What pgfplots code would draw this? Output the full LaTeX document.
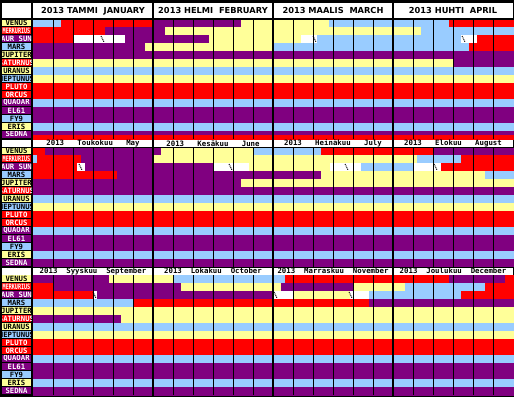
\documentclass[border=0pt]{standalone}
\usepackage{pgfplots}
\pgfplotsset{compat=1.18}
\usepackage{fontspec}
\newfontfamily\monof{DejaVu Sans Mono}
\newfontfamily\sansf{DejaVu Sans}
\definecolor{cR}{HTML}{FF0000}
\definecolor{cP}{HTML}{800080}
\definecolor{cY}{HTML}{FFFF99}
\definecolor{cB}{HTML}{99CCFF}
% rectangle: colour, x1, x2, y1, y2 (pixel coordinates, y downwards)
\newcommand\R[5]{\addplot[draw=#1,line width=0.3bp,fill=#1] coordinates {(#2,#4) (#3,#4) (#3,#5) (#2,#5)} -- cycle;}
% label box: fill, text colour, y1, y2, text
\newcommand\Lb[6][1]{%
  \pgfplotsextra{\begin{scope}
    \fill[#2] (axis cs:2,{#4+0.3}) rectangle (axis cs:31,{#5-1});
    \clip (axis cs:2,#4) rectangle (axis cs:31,#5);
    \node[text=#3,font=\monof\bfseries\fontsize{7.3}{7.5}\selectfont,inner sep=0pt,xscale=#1] at (axis cs:16.5,{(#4+#5)/2-0.4}) {#6};\end{scope}}}
% hatch mark in a white bar: x1,y1,x2,y2
\newcommand\Hm[4]{\addplot[black,line width=0.9bp,dash pattern=on 1bp off 0.8bp] coordinates {(#1,#2) (#3,#4)};}
\begin{document}
\begin{tikzpicture}
\begin{axis}[at={(0,0)},anchor=south west,width=514bp,height=397bp,scale only axis,
  xmin=0,xmax=514,ymin=0,ymax=397,y dir=reverse,axis lines=none,ticks=none,clip=true]
% background
\addplot[draw=none,fill=black] coordinates {(0,0) (514,0) (514,397) (0,397)} -- cycle;
% title boxes
\addplot[draw=none,fill=white] coordinates {(2,3) (513,3) (513,18.3) (2,18.3)} -- cycle;
\addplot[draw=none,fill=white] coordinates {(2,140) (513,140) (513,147) (2,147)} -- cycle;
\addplot[draw=none,fill=white] coordinates {(2,267.6) (513,267.6) (513,274.6) (2,274.6)} -- cycle;
%%%%% band 1 : January - April
% Venus
\R{cB}{33}{61}{20}{27}
\R{cR}{61}{153}{20}{27}
\R{cP}{153}{241}{20}{27}
\R{cY}{241}{329}{20}{27}
\R{cB}{329}{449}{20}{27}
\R{cR}{449}{513}{20}{27}
% Merkurius
\R{cR}{33}{105}{27}{35}
\R{cP}{105}{165}{27}{35}
\R{cY}{165}{421}{27}{35}
\R{cB}{421}{513}{27}{35}
% Sun
\R{cR}{33}{73}{35}{43}
\R{white}{73}{125}{35}{43}
\R{cP}{125}{209}{35}{43}
\R{cY}{209}{301}{35}{43}
\R{white}{301}{317}{35}{43}
\R{cB}{317}{461}{35}{43}
\R{white}{461}{477}{35}{43}
\R{cR}{477}{513}{35}{43}
% Mars
\R{cP}{33}{145}{43}{51}
\R{cY}{145}{273}{43}{51}
\R{cB}{273}{469}{43}{51}
\R{cR}{469}{513}{43}{51}
% Jupiter
\R{cP}{33}{513}{51}{59}
% Saturnus
\R{cY}{33}{453}{59}{67}
\R{cP}{453}{513}{59}{67}
% Uranus .. Sedna
\R{cB}{33}{513}{67}{75}
\R{cY}{33}{513}{75}{83}
\R{cR}{33}{513}{83}{99}
\R{cB}{33}{513}{99}{107}
\R{cP}{33}{513}{107}{123}
\R{cB}{33}{513}{123}{131}
\R{cP}{33}{513}{131}{135}
\R{cR}{33}{513}{135}{139}
%%%%% band 2 : May - August
% Venus
\R{cR}{33}{45}{148}{155}
\R{cP}{45}{161}{148}{155}
\R{cY}{161}{253}{148}{155}
\R{cB}{253}{321}{148}{155}
\R{cR}{321}{433}{148}{155}
\R{cP}{433}{513}{148}{155}
% Merkurius
\R{cB}{33}{37}{155}{163}
\R{cR}{37}{81}{155}{163}
\R{cP}{81}{153}{155}{163}
\R{cY}{153}{417}{155}{163}
\R{cB}{417}{461}{155}{163}
\R{cR}{461}{513}{155}{163}
% Sun
\R{cR}{33}{77}{163}{171}
\R{white}{77}{85}{163}{171}
\R{cP}{85}{213}{163}{171}
\R{white}{213}{249}{163}{171}
\R{cY}{249}{330}{163}{171}
\R{white}{330}{361}{163}{171}
\R{cB}{361}{413}{163}{171}
\R{white}{413}{441}{163}{171}
\R{cR}{441}{513}{163}{171}
% Mars
\R{cR}{33}{117}{171}{179}
\R{cP}{117}{321}{171}{179}
\R{cY}{321}{485}{171}{179}
\R{cB}{485}{513}{171}{179}
% Jupiter
\R{cP}{33}{241}{179}{187}
\R{cY}{241}{513}{179}{187}
% Saturnus .. Sedna
\R{cP}{33}{513}{187}{195}
\R{cB}{33}{513}{195}{203}
\R{cY}{33}{513}{203}{211}
\R{cR}{33}{513}{211}{227}
\R{cB}{33}{513}{227}{235}
\R{cP}{33}{513}{235}{251}
\R{cB}{33}{513}{251}{259}
\R{cP}{33}{513}{259}{266.6}
%%%%% band 3 : September - December
% Venus
\R{cP}{33}{109}{275}{283}
\R{cY}{109}{173}{275}{283}
\R{cB}{173}{285}{275}{283}
\R{cR}{285}{449}{275}{283}
\R{cP}{449}{505}{275}{283}
\R{cR}{505}{513}{275}{283}
% Merkurius
\R{cR}{33}{53}{283}{291}
\R{cP}{53}{181}{283}{291}
\R{cY}{181}{281}{283}{291}
\R{cP}{281}{353}{283}{291}
\R{cY}{353}{405}{283}{291}
\R{cB}{405}{485}{283}{291}
\R{cR}{485}{513}{283}{291}
% Sun
\R{cR}{33}{93}{291}{299}
\R{white}{93}{97}{291}{299}
\R{cP}{97}{274}{291}{299}
\R{white}{274}{293}{291}{299}
\R{cY}{293}{350}{291}{299}
\R{white}{350}{369}{291}{299}
\R{cB}{369}{461}{291}{299}
\R{cR}{461}{513}{291}{299}
% Mars
\R{cB}{33}{133}{299}{307}
\R{cR}{133}{369}{299}{307}
\R{cP}{369}{513}{299}{307}
% Jupiter
\R{cY}{33}{513}{307}{315}
% Saturnus
\R{cP}{33}{121}{315}{323}
\R{cY}{121}{513}{315}{323}
% Uranus .. Sedna
\R{cB}{33}{513}{323}{331}
\R{cY}{33}{513}{331}{339}
\R{cR}{33}{513}{339}{355}
\R{cB}{33}{513}{355}{363}
\R{cP}{33}{513}{363}{379}
\R{cB}{33}{513}{379}{387}
\R{cP}{33}{513}{387}{395}
% hatch marks
\Hm{101}{36}{104}{42} \Hm{313}{36}{316}{42} \Hm{462}{36}{465}{42}
\Hm{79}{164}{82}{170} \Hm{229}{164}{232}{170} \Hm{345}{164}{348}{170} \Hm{434}{164}{437}{170}
\Hm{93}{292}{96}{298} \Hm{274}{292}{277}{298} \Hm{349}{292}{352}{298}
% thin day lines
\addplot[black,line width=1bp,unbounded coords=jump] coordinates {
(53,20)(53,139)(nan,nan)(73,20)(73,139)(nan,nan)(93,20)(93,139)(nan,nan)(113,20)(113,139)(nan,nan)(133,20)(133,139)(nan,nan)
(173,20)(173,139)(nan,nan)(193,20)(193,139)(nan,nan)(213,20)(213,139)(nan,nan)(233,20)(233,139)(nan,nan)(253,20)(253,139)(nan,nan)
(293,20)(293,139)(nan,nan)(313,20)(313,139)(nan,nan)(333,20)(333,139)(nan,nan)(353,20)(353,139)(nan,nan)(373,20)(373,139)(nan,nan)
(413,20)(413,139)(nan,nan)(433,20)(433,139)(nan,nan)(453,20)(453,139)(nan,nan)(473,20)(473,139)(nan,nan)(493,20)(493,139)};
\addplot[black,line width=1bp,unbounded coords=jump] coordinates {
(53,148)(53,267)(nan,nan)(73,148)(73,267)(nan,nan)(93,148)(93,267)(nan,nan)(113,148)(113,267)(nan,nan)(133,148)(133,267)(nan,nan)
(173,148)(173,267)(nan,nan)(193,148)(193,267)(nan,nan)(213,148)(213,267)(nan,nan)(233,148)(233,267)(nan,nan)(253,148)(253,267)(nan,nan)
(293,148)(293,267)(nan,nan)(313,148)(313,267)(nan,nan)(333,148)(333,267)(nan,nan)(353,148)(353,267)(nan,nan)(373,148)(373,267)(nan,nan)
(413,148)(413,267)(nan,nan)(433,148)(433,267)(nan,nan)(453,148)(453,267)(nan,nan)(473,148)(473,267)(nan,nan)(493,148)(493,267)};
\addplot[black,line width=1bp,unbounded coords=jump] coordinates {
(53,275)(53,395)(nan,nan)(73,275)(73,395)(nan,nan)(93,275)(93,395)(nan,nan)(113,275)(113,395)(nan,nan)(133,275)(133,395)(nan,nan)
(173,275)(173,395)(nan,nan)(193,275)(193,395)(nan,nan)(213,275)(213,395)(nan,nan)(233,275)(233,395)(nan,nan)(253,275)(253,395)(nan,nan)
(293,275)(293,395)(nan,nan)(313,275)(313,395)(nan,nan)(333,275)(333,395)(nan,nan)(353,275)(353,395)(nan,nan)(373,275)(373,395)(nan,nan)
(413,275)(413,395)(nan,nan)(433,275)(433,395)(nan,nan)(453,275)(453,395)(nan,nan)(473,275)(473,395)(nan,nan)(493,275)(493,395)};
% month borders
\addplot[black,line width=2bp] coordinates {(153,0)(153,397)};
\addplot[black,line width=2bp] coordinates {(273,0)(273,397)};
\addplot[black,line width=2bp] coordinates {(393,0)(393,397)};
\addplot[black,line width=2bp] coordinates {(32,0)(32,397)};
% row labels, band 1
\Lb{cY}{black}{20}{27}{VENUS}
\Lb[0.7]{cR}{white}{27}{35}{MERKURIUS}
\Lb{cP}{white}{35}{43}{AUR SUN}
\Lb{cB}{black}{43}{51}{MARS}
\Lb{cY}{black}{51}{59}{JUPITER}
\Lb{cR}{white}{59}{67}{SATURNUS}
\Lb{cY}{black}{67}{75}{URANUS}
\Lb{cB}{black}{75}{83}{NEPTUNUS}
\Lb{cR}{white}{83}{91}{PLUTO}
\Lb{cR}{white}{91}{99}{ORCUS}
\Lb{cP}{white}{99}{107}{QUAOAR}
\Lb{cP}{white}{107}{115}{EL61}
\Lb{cB}{black}{115}{123}{FY9}
\Lb{cY}{black}{123}{131}{ERIS}
\Lb{cP}{white}{131}{138.5}{SEDNA}
% band 2
\Lb{cY}{black}{148}{155}{VENUS}
\Lb[0.7]{cR}{white}{155}{163}{MERKURIUS}
\Lb{cP}{white}{163}{171}{AUR SUN}
\Lb{cB}{black}{171}{179}{MARS}
\Lb{cY}{black}{179}{187}{JUPITER}
\Lb{cR}{white}{187}{195}{SATURNUS}
\Lb{cY}{black}{195}{203}{URANUS}
\Lb{cB}{black}{203}{211}{NEPTUNUS}
\Lb{cR}{white}{211}{219}{PLUTO}
\Lb{cR}{white}{219}{227}{ORCUS}
\Lb{cP}{white}{227}{235}{QUAOAR}
\Lb{cP}{white}{235}{243}{EL61}
\Lb{cB}{black}{243}{251}{FY9}
\Lb{cY}{black}{251}{259}{ERIS}
\Lb{cP}{white}{259}{267}{SEDNA}
% band 3
\Lb{cY}{black}{275}{283}{VENUS}
\Lb[0.7]{cR}{white}{283}{291}{MERKURIUS}
\Lb{cP}{white}{291}{299}{AUR SUN}
\Lb{cB}{black}{299}{307}{MARS}
\Lb{cY}{black}{307}{315}{JUPITER}
\Lb{cR}{white}{315}{323}{SATURNUS}
\Lb{cY}{black}{323}{331}{URANUS}
\Lb{cB}{black}{331}{339}{NEPTUNUS}
\Lb{cR}{white}{339}{347}{PLUTO}
\Lb{cR}{white}{347}{355}{ORCUS}
\Lb{cP}{white}{355}{363}{QUAOAR}
\Lb{cP}{white}{363}{371}{EL61}
\Lb{cB}{black}{371}{379}{FY9}
\Lb{cY}{black}{379}{387}{ERIS}
\Lb{cP}{white}{387}{395}{SEDNA}
% month titles
\pgfplotsextra{
\tikzset{t1/.style={font=\sansf\bfseries\fontsize{8.3}{9}\selectfont,inner sep=0pt},
         t2/.style={font=\monof\bfseries\fontsize{7.4}{8}\selectfont,inner sep=0pt}}
\node[t1] at (axis cs:93,10.8) {2013 TAMMI\ \ JANUARY};
\node[t1] at (axis cs:213,10.8) {2013 HELMI\ \ FEBRUARY};
\node[t1] at (axis cs:333,10.8) {2013 MAALIS\ \ MARCH};
\node[t1] at (axis cs:453,10.8) {2013 HUHTI\ \ APRIL};
\node[t2] at (axis cs:93,143.5) {2013\ \ \ Toukokuu\ \ \ May};
\node[t2] at (axis cs:213,143.5) {2013\ \ \ Kesäkuu\ \ \ June};
\node[t2] at (axis cs:333,143.5) {2013\ \ \ Heinäkuu\ \ \ July};
\node[t2] at (axis cs:453,143.5) {2013\ \ \ Elokuu\ \ \ August};
\node[t2] at (axis cs:93,271.2) {2013\ \ Syyskuu\ \ September};
\node[t2] at (axis cs:213,271.2) {2013\ \ Lokakuu\ \ October};
\node[t2] at (axis cs:333,271.2) {2013\ \ Marraskuu\ \ November};
\node[t2] at (axis cs:453,271.2) {2013\ \ Joulukuu\ \ December};
}
\end{axis}
\end{tikzpicture}
\end{document}
